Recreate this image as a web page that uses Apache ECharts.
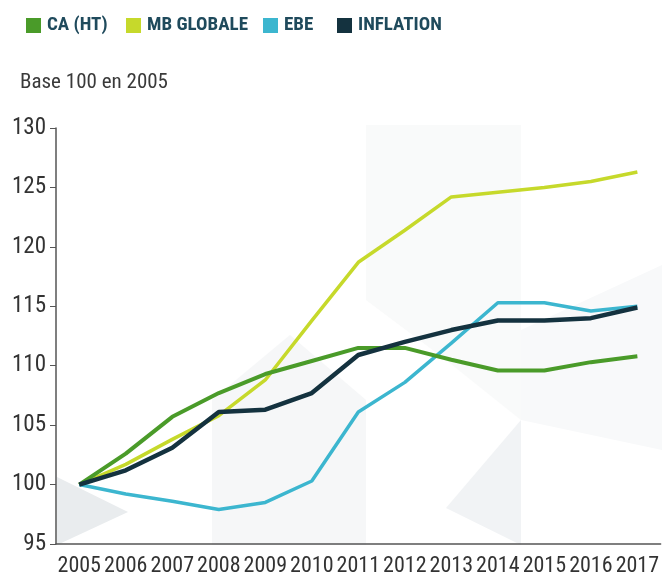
<!DOCTYPE html>
<html>
<head>
<meta charset="utf-8">
<script src="https://cdn.jsdelivr.net/npm/echarts@6/dist/echarts.min.js"></script>
<style>
html,body{margin:0;padding:0;background:#fff;}
#chart{width:662px;height:580px;}
</style>
</head>
<body>
<div id="chart"></div>
<script>
var years = ['2005','2006','2007','2008','2009','2010','2011','2012','2013','2014','2015','2016','2017'];
var seriesNames = ['CA (HT)','MB GLOBALE','EBE','INFLATION'];
var caHT = [100,102.6,105.7,107.7,109.3,110.4,111.5,111.5,110.5,109.6,109.6,110.3,110.8];
var mbGlobale = [100,101.7,103.8,105.8,108.8,113.8,118.7,121.4,124.2,124.6,125.0,125.5,126.3];
var ebe = [100,99.2,98.6,97.9,98.5,100.3,106.1,108.6,111.9,115.3,115.3,114.6,115.0];
var inflation = [100,101.2,103.1,106.1,106.3,107.7,110.9,112.0,113.0,113.8,113.8,114.0,114.9];
var yTicks = {min:95, max:130, step:5};

var colors = ['#4a9b29','#c6d92b','#3cb6cf','#14323f'];
var fontC = '"Roboto Condensed","Open Sans",sans-serif';

var chart = echarts.init(document.getElementById('chart'), null, {renderer:'canvas'});

function legendAt(name, left){
  return {
    data:[name], left:left, top:16, padding:0, icon:'rect', itemWidth:15, itemHeight:15, itemGap:0,
    selectedMode:false,
    textStyle:{fontFamily:fontC, fontWeight:'bold', fontSize:19, color:'#1f4a5c', padding:[0,0,0,1]}
  };
}

function poly(points, fill){
  return {type:'polygon', z:-10, silent:true, shape:{points:points}, style:{fill:fill}};
}

chart.setOption({
  animation:false,
  backgroundColor:'#ffffff',
  color:colors,
  graphic:[
    poly([[57,477],[128,512],[57,545]], '#e9ecee'),
    poly([[212,545],[212,400],[290,335],[366,400],[366,545]], '#f6f7f8'),
    poly([[521,420],[446,508],[521,545]], '#f1f3f5'),
    poly([[366,125],[521,125],[521,420],[446,360],[366,300]], '#f9fafa'),
    poly([[521,330],[662,265],[662,450],[521,420]], '#f8f9fa'),
    {type:'text', left:20, top:72, style:{text:'Base 100 en 2005', fontFamily:fontC, fontSize:21, fill:'#3a3a3a'}}
  ],
  legend:[
    legendAt(seriesNames[0], 26),
    legendAt(seriesNames[1], 126),
    legendAt(seriesNames[2], 263),
    legendAt(seriesNames[3], 337)
  ],
  grid:{left:56, right:-1, top:128, bottom:36},
  xAxis:{
    type:'category', data:years, boundaryGap:true,
    axisLine:{lineStyle:{color:'#555', width:1.5}},
    axisTick:{alignWithLabel:true, length:6, lineStyle:{color:'#555'}},
    axisLabel:{interval:0, margin:11, fontFamily:fontC, fontSize:22, color:'#333'},
    splitLine:{show:false}
  },
  yAxis:{
    type:'value', min:yTicks.min, max:yTicks.max, interval:yTicks.step,
    axisLine:{show:true, lineStyle:{color:'#555', width:1.5}},
    axisTick:{show:true, length:6, lineStyle:{color:'#555'}},
    axisLabel:{margin:10, fontFamily:fontC, fontSize:23, color:'#333'},
    splitLine:{show:false}
  },
  series:[
    {name:seriesNames[0], type:'line', data:caHT, symbol:'none', lineStyle:{width:4, color:colors[0]}, z:3},
    {name:seriesNames[1], type:'line', data:mbGlobale, symbol:'none', lineStyle:{width:3.5, color:colors[1]}, z:2},
    {name:seriesNames[2], type:'line', data:ebe, symbol:'none', lineStyle:{width:3.5, color:colors[2]}, z:2},
    {name:seriesNames[3], type:'line', data:inflation, symbol:'none', lineStyle:{width:4.5, color:colors[3]}, z:4}
  ]
});
</script>
</body>
</html>
